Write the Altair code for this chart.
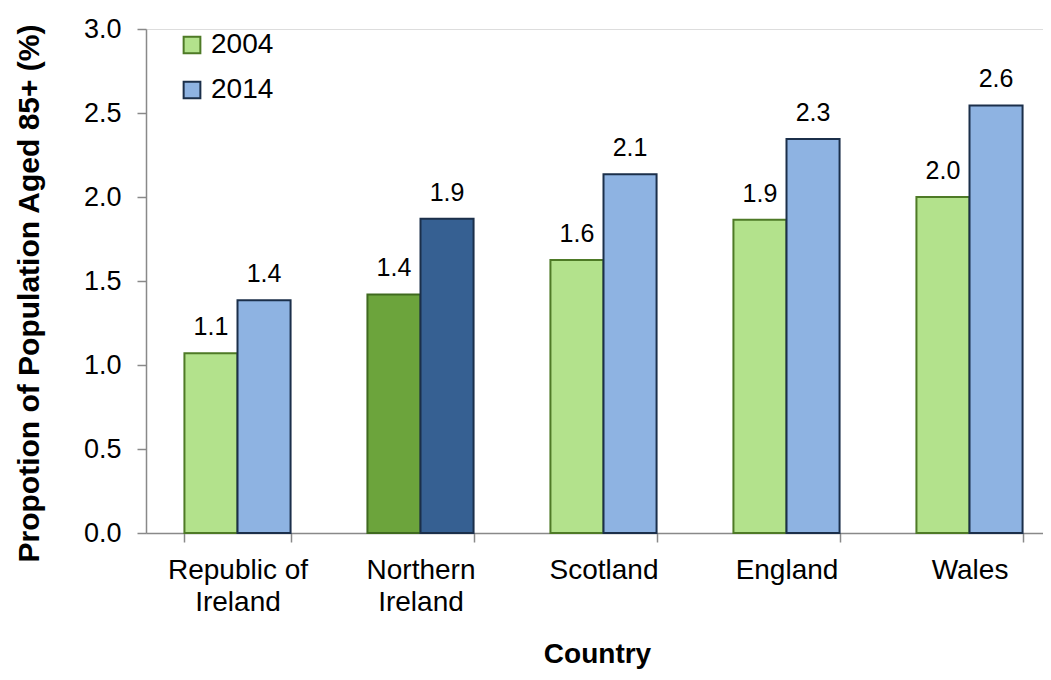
import altair as alt
import pandas as pd

countries = ["Republic of Ireland", "Northern Ireland", "Scotland", "England", "Wales"]
years = ["2004", "2014"]
values_2004 = [1.07, 1.42, 1.625, 1.865, 2.0]
values_2014 = [1.385, 1.87, 2.135, 2.345, 2.545]
labels_2004 = ["1.1", "1.4", "1.6", "1.9", "2.0"]
labels_2014 = ["1.4", "1.9", "2.1", "2.3", "2.6"]
highlight = "Northern Ireland"

rows = []
for c, v4, v14, l4, l14 in zip(countries, values_2004, values_2014, labels_2004, labels_2014):
    for y, v, l in ((years[0], v4, l4), (years[1], v14, l14)):
        key = y + (" NI" if c == highlight else "")
        rows.append({"Country": c, "Year": y, "Value": v, "Label": l, "Key": key})
df = pd.DataFrame(rows)

FONT = "Liberation Sans"
AXIS_GREY = "#898989"
key_domain = ["2004", "2014", "2004 NI", "2014 NI"]
fill_range = ["#B3E28C", "#8EB3E2", "#6CA43C", "#366092"]
stroke_range = ["#4E7A26", "#1B2F4A", "#3F6A1F", "#1B2F4A"]

x_enc = alt.X(
    "Country:N",
    sort=countries,
    scale=alt.Scale(range=[0, 915], paddingInner=0.42, paddingOuter=0.21),
    axis=alt.Axis(
        title="Country",
        titleFont=FONT, titleFontSize=28, titleFontWeight="bold", titleColor="black",
        titleX=451, titleY=129, titleAlign="center", titleBaseline="alphabetic",
        labelFont=FONT, labelFontSize=28, labelColor="black", labelAngle=0,
        labelLineHeight=32, labelPadding=14,
        labelExpr="datum.label == 'Republic of Ireland' ? ['Republic of', 'Ireland'] : datum.label == 'Northern Ireland' ? ['Northern', 'Ireland'] : datum.label",
        tickBand="extent", tickSize=9, tickColor=AXIS_GREY, tickWidth=1.5,
        domainColor=AXIS_GREY, domainWidth=1.5,
        grid=False,
    ),
)
xo = alt.XOffset("Year:N", sort=years, scale=alt.Scale(paddingInner=0, paddingOuter=0))
y_enc = alt.Y(
    "Value:Q",
    scale=alt.Scale(domain=[0, 3.0], nice=False, zero=True),
    axis=alt.Axis(
        title="Propotion of Population Aged 85+ (%)",
        titleFont=FONT, titleFontSize=30, titleFontWeight="bold", titleColor="black",
        titleX=-117, titleY=264, titleAngle=270, titleAlign="center", titleBaseline="middle",
        values=[0, 0.5, 1.0, 1.5, 2.0, 2.5, 3.0], format=".1f",
        labelFont=FONT, labelFontSize=27, labelColor="black", labelPadding=16,
        tickSize=9, tickColor=AXIS_GREY, tickWidth=1.5,
        domainColor=AXIS_GREY, domainWidth=1.5,
        grid=False,
    ),
)

legend = alt.Legend(
    title=None, values=["2004", "2014"], orient="none",
    legendX=32, legendY=2,
    symbolType="square", symbolSize=280, symbolStrokeWidth=2,
    labelFont=FONT, labelFontSize=28, labelColor="black",
    rowPadding=17, labelOffset=5,
)

bars = alt.Chart(df).mark_bar(strokeWidth=2).encode(
    x=x_enc,
    xOffset=xo,
    y=y_enc,
    fill=alt.Fill("Key:N", scale=alt.Scale(domain=key_domain, range=fill_range), legend=legend),
    stroke=alt.Stroke("Key:N", scale=alt.Scale(domain=key_domain, range=stroke_range), legend=legend),
)

texts = alt.Chart(df).mark_text(
    font=FONT, fontSize=25, color="black", baseline="alphabetic", dy=-18
).encode(
    x=alt.X("Country:N", sort=countries),
    xOffset=xo,
    y="Value:Q",
    text="Label:N",
)

chart = (
    alt.layer(bars, texts)
    .properties(
        width=897, height=504,
        autosize=alt.AutoSizeParams(type="none"),
        padding={"left": 138, "top": 21, "right": 0, "bottom": 139},
    )
    .configure_view(stroke=None)
    .configure(background="white")
)

chart.save("out.html", embed_options={"renderer": "svg", "actions": False})
